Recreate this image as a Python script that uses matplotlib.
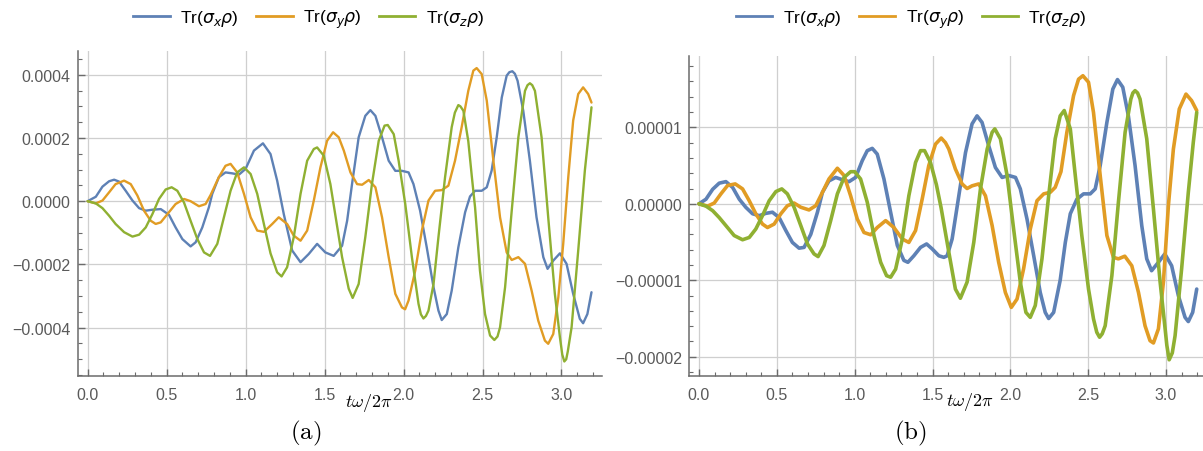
import numpy as np
import matplotlib
matplotlib.use("Agg")
import matplotlib.pyplot as plt
from matplotlib.ticker import MultipleLocator, FuncFormatter
from matplotlib.lines import Line2D
from matplotlib.transforms import blended_transform_factory

# ---------------- panel (a): expectation values, units of 1e-5 ----------------
ta_x = [0, 0.052, 0.094, 0.136, 0.168, 0.199, 0.241, 0.284, 0.326, 0.368, 0.41, 0.463,
        0.515, 0.557, 0.60, 0.652, 0.684, 0.726, 0.768, 0.789, 0.831, 0.873, 0.916, 0.958,
        1.0, 1.053, 1.11, 1.158, 1.2, 1.242, 1.295, 1.348, 1.4, 1.453, 1.505, 1.558,
        1.611, 1.643, 1.674, 1.716, 1.758, 1.79, 1.822, 1.864, 1.906, 1.948, 1.99, 2.032,
        2.063, 2.105, 2.147, 2.19, 2.221, 2.242, 2.274, 2.305, 2.347, 2.39, 2.421, 2.453,
        2.495, 2.527, 2.558, 2.59, 2.622, 2.653, 2.67, 2.689, 2.705, 2.722, 2.758, 2.80,
        2.842, 2.885, 2.912, 2.948, 2.99, 3.032, 3.074, 3.116, 3.137, 3.164, 3.19]
a_x = [0, 1.4, 4.6, 6.3, 6.8, 6.2, 3.3, 0.2, -2.2, -3.0, -2.7, -2.5,
       -4.3, -8.3, -12.0, -14.3, -13.0, -8.3, -1.9, 2.3, 7.6, 9.1, 8.8, 8.4,
       10.2, 16.0, 18.3, 14.9, 6.5, -4.1, -15.6, -19.3, -16.7, -13.5, -16.2, -17.3,
       -14.1, -6.2, 5.4, 20.2, 27.0, 28.8, 27.0, 20.2, 12.8, 9.6, 9.6, 9.1,
       5.4, -3.0, -14.6, -27.2, -34.6, -37.6, -35.7, -28.3, -14.6, -3.5, 1.5, 3.3,
       3.3, 4.4, 9.7, 20.2, 32.8, 39.7, 40.8, 41.1, 40.3, 38.1, 28.6, 12.8,
       -5.1, -17.7, -21.4, -18.8, -16.5, -19.8, -29.3, -37.2, -38.6, -35.7, -28.8]

ta_y = [0, 0.052, 0.094, 0.136, 0.177, 0.231, 0.273, 0.315, 0.357, 0.40, 0.431, 0.463,
        0.505, 0.557, 0.611, 0.652, 0.705, 0.747, 0.779, 0.831, 0.873, 0.905, 0.947, 0.99,
        1.032, 1.074, 1.116, 1.169, 1.21, 1.263, 1.305, 1.348, 1.39, 1.432, 1.474, 1.516,
        1.554, 1.59, 1.622, 1.664, 1.706, 1.738, 1.78, 1.822, 1.864, 1.906, 1.948, 1.99,
        2.01, 2.032, 2.074, 2.116, 2.158, 2.20, 2.242, 2.284, 2.326, 2.368, 2.41, 2.442,
        2.463, 2.495, 2.527, 2.569, 2.611, 2.653, 2.685, 2.727, 2.769, 2.811, 2.853, 2.895,
        2.916, 2.948, 2.98, 3.011, 3.043, 3.074, 3.106, 3.137, 3.169, 3.19]
a_y = [0, -0.7, 0.2, 2.8, 5.4, 6.5, 5.4, 1.8, -3.0, -6.2, -7.2, -6.7,
       -4.1, -0.9, 0.7, 0.0, -1.6, -0.9, 2.0, 7.6, 11.2, 11.8, 9.1, 2.3,
       -5.1, -9.3, -9.7, -7.2, -5.1, -7.2, -10.9, -12.5, -9.3, 0.2, 10.7, 19.1,
       21.8, 20.2, 16.0, 9.1, 5.4, 5.2, 6.7, 4.4, -5.1, -17.7, -29.3, -33.6,
       -34.2, -31.4, -22.0, -9.3, 0.2, 3.3, 3.5, 4.9, 12.8, 23.4, 34.9, 41.3,
       42.1, 40.2, 31.8, 12.8, -5.1, -16.2, -18.6, -17.7, -19.8, -28.3, -37.8, -44.1,
       -45.1, -42.0, -30.4, -13.5, 7.6, 25.5, 33.9, 36.0, 33.9, 31.2]

ta_z = [0, 0.052, 0.094, 0.136, 0.177, 0.231, 0.284, 0.326, 0.368, 0.41, 0.452, 0.494,
        0.532, 0.568, 0.61, 0.652, 0.695, 0.737, 0.775, 0.821, 0.863, 0.905, 0.947, 0.99,
        1.032, 1.074, 1.116, 1.158, 1.20, 1.228, 1.263, 1.305, 1.348, 1.39, 1.432, 1.453,
        1.495, 1.537, 1.569, 1.611, 1.653, 1.678, 1.716, 1.758, 1.80, 1.843, 1.88, 1.90,
        1.938, 1.969, 2.011, 2.053, 2.095, 2.11, 2.126, 2.142, 2.158, 2.19, 2.221, 2.263,
        2.305, 2.325, 2.347, 2.36, 2.379, 2.41, 2.432, 2.453, 2.484, 2.516, 2.548, 2.575,
        2.595, 2.611, 2.643, 2.685, 2.727, 2.769, 2.785, 2.80, 2.815, 2.832, 2.874, 2.916,
        2.958, 2.99, 3.005, 3.018, 3.03, 3.04, 3.064, 3.106, 3.148, 3.19]
a_z = [0, -0.7, -2.2, -4.6, -7.2, -9.8, -11.2, -10.6, -8.3, -4.1, 0.7, 3.7,
       4.4, 3.3, -0.4, -6.2, -12.0, -16.2, -17.3, -13.5, -5.1, 3.3, 9.1, 10.7,
       8.6, 2.3, -7.2, -16.5, -22.5, -23.8, -20.9, -11.4, 2.3, 12.8, 16.5, 17.0,
       14.4, 5.4, -4.6, -17.7, -27.7, -30.6, -26.2, -11.4, 5.4, 19.1, 23.9, 24.1,
       21.2, 12.8, -0.9, -17.7, -32.5, -35.8, -37.1, -36.3, -34.6, -26.2, -11.4, 7.6,
       23.4, 28.0, 30.4, 30.0, 28.6, 19.0, 8.0, -2.0, -22.0, -35.7, -42.5, -43.9,
       -42.8, -39.9, -27.2, -3.0, 20.2, 34.9, 36.7, 37.3, 36.7, 34.9, 20.2, -5.1,
       -29.3, -43.0, -48.5, -50.7, -50.0, -47.5, -39.9, -15.6, 9.7, 29.7]

# ---------------- panel (b): expectation values, units of 1e-5 ----------------
tb_x = [0, 0.045, 0.088, 0.13, 0.173, 0.216, 0.259, 0.301, 0.344, 0.387, 0.429, 0.472,
        0.515, 0.558, 0.60, 0.643, 0.675, 0.718, 0.761, 0.793, 0.835, 0.878, 0.921, 0.964,
        1.006, 1.049, 1.081, 1.113, 1.145, 1.188, 1.231, 1.274, 1.316, 1.342, 1.38, 1.423,
        1.462, 1.498, 1.541, 1.573, 1.594, 1.626, 1.669, 1.712, 1.754, 1.786, 1.818, 1.861,
        1.904, 1.947, 1.99, 2.033, 2.064, 2.107, 2.15, 2.192, 2.224, 2.246, 2.278, 2.32,
        2.353, 2.385, 2.427, 2.47, 2.513, 2.545, 2.577, 2.62, 2.658, 2.688, 2.722, 2.758,
        2.801, 2.844, 2.876, 2.907, 2.951, 2.992, 3.036, 3.079, 3.122, 3.143, 3.171, 3.197]
b_x = [0, 0.06, 0.19, 0.27, 0.29, 0.215, 0.06, -0.046, -0.13, -0.155, -0.125, -0.11,
       -0.18, -0.35, -0.505, -0.58, -0.57, -0.40, -0.11, 0.15, 0.30, 0.345, 0.315, 0.29,
       0.345, 0.565, 0.695, 0.725, 0.65, 0.325, -0.11, -0.545, -0.74, -0.765, -0.68, -0.57,
       -0.525, -0.59, -0.68, -0.70, -0.68, -0.46, 0.105, 0.67, 1.045, 1.15, 1.065, 0.76,
       0.475, 0.345, 0.37, 0.345, 0.195, -0.2, -0.68, -1.16, -1.42, -1.5, -1.42, -1.0,
       -0.505, -0.13, 0.06, 0.13, 0.13, 0.195, 0.5, 1.065, 1.5, 1.625, 1.525, 1.15,
       0.5, -0.285, -0.72, -0.875, -0.765, -0.655, -0.81, -1.2, -1.485, -1.54, -1.42, -1.115]

tb_y = [0, 0.056, 0.098, 0.141, 0.184, 0.233, 0.28, 0.323, 0.365, 0.408, 0.44, 0.483,
        0.526, 0.568, 0.611, 0.654, 0.707, 0.75, 0.793, 0.835, 0.889, 0.932, 0.974, 1.017,
        1.06, 1.103, 1.145, 1.199, 1.252, 1.306, 1.348, 1.391, 1.434, 1.476, 1.519, 1.556,
        1.583, 1.605, 1.647, 1.69, 1.722, 1.754, 1.797, 1.84, 1.883, 1.925, 1.968, 2.006,
        2.043, 2.085, 2.128, 2.171, 2.214, 2.256, 2.288, 2.325, 2.363, 2.406, 2.438, 2.466,
        2.502, 2.534, 2.577, 2.62, 2.662, 2.694, 2.735, 2.78, 2.823, 2.865, 2.897, 2.919,
        2.951, 2.983, 3.015, 3.047, 3.085, 3.128, 3.164, 3.197]
b_y = [0, -0.03, 0.01, 0.13, 0.24, 0.26, 0.195, 0.04, -0.13, -0.265, -0.31, -0.265,
       -0.13, -0.025, 0.01, -0.045, -0.08, -0.025, 0.15, 0.325, 0.465, 0.37, 0.105, -0.2,
       -0.375, -0.405, -0.31, -0.22, -0.31, -0.46, -0.505, -0.35, 0.065, 0.5, 0.78, 0.86,
       0.80, 0.715, 0.455, 0.26, 0.20, 0.235, 0.26, 0.105, -0.285, -0.765, -1.16, -1.355,
       -1.245, -0.85, -0.33, 0.04, 0.13, 0.15, 0.215, 0.42, 0.935, 1.415, 1.63, 1.675,
       1.59, 1.195, 0.37, -0.415, -0.70, -0.72, -0.685, -0.81, -1.16, -1.595, -1.79, -1.82,
       -1.635, -1.025, -0.025, 0.715, 1.24, 1.435, 1.35, 1.22]

tb_z = [0, 0.045, 0.088, 0.13, 0.173, 0.226, 0.28, 0.323, 0.365, 0.408, 0.451, 0.494,
        0.532, 0.568, 0.611, 0.654, 0.697, 0.739, 0.765, 0.803, 0.846, 0.889, 0.932, 0.974,
        1.0, 1.038, 1.081, 1.124, 1.167, 1.205, 1.231, 1.263, 1.306, 1.348, 1.391, 1.423,
        1.449, 1.487, 1.525, 1.555, 1.605, 1.647, 1.679, 1.722, 1.765, 1.808, 1.851, 1.883,
        1.90, 1.936, 1.979, 2.021, 2.064, 2.10, 2.128, 2.16, 2.203, 2.246, 2.288, 2.32,
        2.346, 2.385, 2.417, 2.459, 2.502, 2.534, 2.555, 2.573, 2.59, 2.609, 2.652, 2.694,
        2.737, 2.774, 2.787, 2.801, 2.817, 2.833, 2.876, 2.919, 2.962, 2.994, 3.005, 3.02,
        3.04, 3.058, 3.10, 3.143, 3.175, 3.197]
b_z = [0, -0.03, -0.09, -0.18, -0.285, -0.415, -0.47, -0.44, -0.33, -0.155, 0.04, 0.16,
       0.195, 0.13, -0.046, -0.285, -0.525, -0.655, -0.69, -0.545, -0.22, 0.13, 0.345, 0.42,
       0.42, 0.325, 0.02, -0.415, -0.765, -0.94, -0.96, -0.855, -0.46, 0.105, 0.54, 0.695,
       0.695, 0.54, 0.25, -0.05, -0.635, -1.115, -1.235, -1.025, -0.505, 0.195, 0.715, 0.935,
       0.98, 0.85, 0.37, -0.33, -1.025, -1.42, -1.485, -1.33, -0.72, 0.105, 0.85, 1.15,
       1.22, 0.98, 0.37, -0.415, -1.115, -1.505, -1.68, -1.745, -1.70, -1.595, -0.94, 0.02,
       0.935, 1.37, 1.45, 1.48, 1.45, 1.37, 0.85, -0.07, -1.025, -1.635, -1.85, -2.04,
       -1.95, -1.725, -0.85, 0.15, 0.805, 1.195]

UNIT = 1e-5
labels = [r"Tr($\sigma_x\rho$)", r"Tr($\sigma_y\rho$)", r"Tr($\sigma_z\rho$)"]
colors = ["#5E81B5", "#E19C24", "#8FB032"]
axis_gray = "#6b6b6b"
label_gray = "#5a5a5a"
grid_gray = "#cfcfcf"

W, H = 1203, 452
fig = plt.figure(figsize=(W / 100, H / 100), dpi=100)


def px_axes(left, right, top, bottom):
    return fig.add_axes([left / W, 1 - bottom / H, (right - left) / W, (bottom - top) / H])


axA = px_axes(77.5, 601.6, 51.7, 376.7)
axB = px_axes(689.0, 1205.6, 56.7, 376.7)


def style(ax, ymajor, yminor, ndec, ylim):
    ax.set_xlim(-0.064, 3.254)
    ax.set_ylim(*ylim)
    for s in ("top", "right"):
        ax.spines[s].set_visible(False)
    for s in ("left", "bottom"):
        ax.spines[s].set_color(axis_gray)
        ax.spines[s].set_linewidth(1.1)
    ax.xaxis.set_major_locator(MultipleLocator(0.5))
    ax.xaxis.set_minor_locator(MultipleLocator(0.1))
    ax.yaxis.set_major_locator(MultipleLocator(ymajor))
    ax.yaxis.set_minor_locator(MultipleLocator(yminor))
    ax.xaxis.set_major_formatter(FuncFormatter(lambda v, p: f"{v:.1f}"))

    def yfmt(v, p):
        s = f"{abs(v):.{ndec}f}"
        return ("\u2212" + s) if v < -1e-12 else s

    ax.yaxis.set_major_formatter(FuncFormatter(yfmt))
    ax.tick_params(which="both", direction="in", colors=axis_gray, labelcolor=label_gray,
                   labelsize=11.5)
    ax.tick_params(which="major", length=5, width=1.0)
    ax.tick_params(which="minor", length=3, width=0.8)
    ax.tick_params(axis="x", which="major", pad=8)
    ax.tick_params(axis="y", which="major", pad=5)
    for lab in ax.get_xticklabels() + ax.get_yticklabels():
        lab.set_fontfamily("Liberation Sans")
    ax.grid(True, which="major", color=grid_gray, linewidth=0.9)
    ax.set_axisbelow(True)


style(axA, 0.0002, 0.00005, 4, (-0.000552, 0.000476))
style(axB, 0.00001, 0.000002, 5, (-2.248e-5, 1.937e-5))

series_a = [(ta_x, a_x), (ta_y, a_y), (ta_z, a_z)]
series_b = [(tb_x, b_x), (tb_y, b_y), (tb_z, b_z)]
for (t, v), c in zip(series_a, colors):
    axA.plot(t, np.asarray(v) * UNIT, color=c, lw=1.7, solid_joinstyle="round",
             solid_capstyle="round")
for (t, v), c in zip(series_b, colors):
    axB.plot(t, np.asarray(v) * UNIT, color=c, lw=2.6, solid_joinstyle="round",
             solid_capstyle="round")

# axis label sitting on the tick-label row
for ax, xc in ((axA, 1.78), (axB, 1.74)):
    tr = blended_transform_factory(ax.transData, ax.transAxes)
    ax.text(xc, -0.08, r"$t\omega/2\pi$", transform=tr, ha="center", va="center",
            fontsize=13, math_fontfamily="cm", color="black")

# legends above each panel
handles = [Line2D([], [], color=c, lw=2.0) for c in colors]
for xc in (308.5, 911.0):
    fig.legend(handles, labels, loc="center", bbox_to_anchor=(xc / W, 1 - 20 / H),
               ncol=3, frameon=False, handlelength=2.1,
               handletextpad=0.6, columnspacing=1.0,
               prop={"family": "Liberation Sans", "size": 12.5})

# panel captions
fig.text(306 / W, 1 - 433 / H, r"$\mathrm{(a)}$", ha="center", va="center",
         fontsize=18, math_fontfamily="cm")
fig.text(910 / W, 1 - 433 / H, r"$\mathrm{(b)}$", ha="center", va="center",
         fontsize=18, math_fontfamily="cm")

fig.savefig("out.png", dpi=100)
